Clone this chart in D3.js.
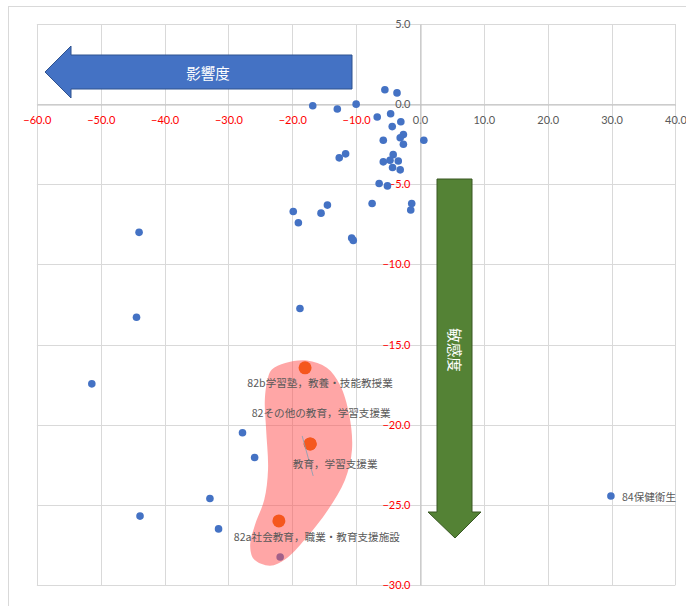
<!DOCTYPE html>
<html>
<head>
<meta charset="utf-8">
<script src="https://cdn.jsdelivr.net/npm/d3@7"></script>
<style>
  body { margin: 0; background: #fff; }
  svg { display: block; }
</style>
</head>
<body>
<svg id="chart" width="686" height="606"></svg>
<script>
// Axis ticks
const xTicks = [-60, -50, -40, -30, -20, -10, 0, 10, 20, 30, 40];
const yTicks = [5, 0, -5, -10, -15, -20, -25, -30];

// Industries plotted without labels (影響度 x, 敏感度 y)
const otherX = [-5.5, -3.6, -16.8, -12.95, -10.0, -6.7, -4.6, -3.0, -4.35, -2.6, -3.1, -2.6,
  -5.75, 0.6, -11.65, -12.65, -4.2, -5.75, -4.7, -3.4, -4.3, -3.1, -6.4, -5.1,
  -7.5, -1.3, -1.45, -14.5, -15.5, -19.85, -19.05, -10.7, -10.45, -44.0, -44.4,
  -18.8, -51.4, -27.8, -25.9, -32.9, -43.85, -31.55, -21.9];
const otherY = [0.9, 0.7, -0.1, -0.3, 0.0, -0.8, -0.6, -1.1, -1.4, -1.9, -2.1, -2.5,
  -2.25, -2.25, -3.1, -3.35, -3.15, -3.6, -3.5, -3.55, -3.95, -4.1, -4.95, -5.1,
  -6.2, -6.2, -6.6, -6.3, -6.8, -6.7, -7.4, -8.35, -8.5, -8.0, -13.3,
  -12.75, -17.45, -20.5, -22.05, -24.6, -25.7, -26.5, -28.25];

// Labelled industries
const labeledNames = ["82b学習塾，教養・技能教授業", "82その他の教育，学習支援業",
  "教育，学習支援業", "82a社会教育，職業・教育支援施設", "84保健衛生"];
const labeledX = [-18.0, -17.2, -17.2, -22.1, 29.9];
const labeledY = [-16.45, -21.2, -21.2, -26.0, -24.45];
const labeledHighlight = [true, true, true, true, false];

// Outline of the highlighted education cluster (data units)
const clusterX = [-23.8, -24.3, -24.1, -23.8, -24.4, -25.85, -26.6, -26.0, -23.5, -21.1,
  -18.0, -14.4, -11.75, -10.65, -11.1, -12.55, -14.6, -17.7, -21.1, -23.2];
const clusterY = [-17.05, -18.45, -20.3, -22.8, -24.7, -26.25, -27.5, -28.4, -28.8, -28.4,
  -27.15, -25.3, -23.45, -21.55, -19.35, -17.5, -16.45, -16.0, -16.15, -16.55];

const svg = d3.select("#chart");
const x = d3.scaleLinear().domain([-60, 40]).range([36.9, 675.4]);
const y = d3.scaleLinear().domain([-30, 5]).range([585, 24]);
const crisp = v => Math.round(v) + 0.5;

const BLUE = "#4472c4", ORANGE = "#f5571e", GREEN = "#548235";
const GRID = "#d9d9d9", GREY_TXT = "#595959", RED_TXT = "#ff0000";
const numFmt = d3.format(".1f");
const tickColor = v => v < 0 ? RED_TXT : GREY_TXT;

// Chart frame
svg.append("rect").attr("x", 8.5).attr("y", 6.5).attr("width", 700).attr("height", 620)
  .attr("fill", "#fff").attr("stroke", GRID);

// Gridlines
const grid = svg.append("g");
grid.selectAll("line.v").data(xTicks).join("line")
  .attr("x1", d => crisp(x(d))).attr("x2", d => crisp(x(d)))
  .attr("y1", y(5)).attr("y2", y(-30))
  .attr("stroke", GRID).attr("stroke-width", 1);
grid.selectAll("line.h").data(yTicks).join("line")
  .attr("y1", d => crisp(y(d))).attr("y2", d => crisp(y(d)))
  .attr("x1", x(-60)).attr("x2", x(40))
  .attr("stroke", GRID).attr("stroke-width", 1);

// Axes crossing at the origin
const xAxis = d3.axisBottom(x).tickValues(xTicks).tickFormat(numFmt).tickSize(0).tickPadding(12);
const gx = svg.append("g").attr("transform", `translate(0,${crisp(y(0))})`).call(xAxis);
gx.select(".domain").attr("stroke", "#bfbfbf");
gx.selectAll("text").attr("font-family", "Lato, 'Liberation Sans', sans-serif")
  .attr("font-size", 11).attr("fill", tickColor);

const yAxis = d3.axisLeft(y).tickValues(yTicks).tickFormat(numFmt).tickSize(0).tickPadding(10);
const gy = svg.append("g").attr("transform", `translate(${crisp(x(0))},0)`).call(yAxis);
gy.select(".domain").attr("stroke", "#bfbfbf");
gy.selectAll("text").attr("font-family", "Lato, 'Liberation Sans', sans-serif")
  .attr("font-size", 11).attr("fill", tickColor);

// 影響度 arrow (pointing left)
const leftArrow = [[352, 55], [71, 55], [71, 46], [45, 72], [71, 98], [71, 89], [352, 89]];
svg.append("path").attr("d", d3.line()(leftArrow) + "Z")
  .attr("fill", BLUE).attr("stroke", "#2f528f").attr("stroke-width", 1);
svg.append("text").attr("x", 208).attr("y", 72)
  .attr("text-anchor", "middle").attr("dominant-baseline", "central")
  .attr("font-family", "'Noto Sans CJK JP', sans-serif").attr("font-size", 14.5)
  .attr("fill", "#fff").text("影響度");

// 敏感度 arrow (pointing down)
const downArrow = [[437, 179], [472, 179], [472, 512], [481, 512], [455, 538], [428, 512], [437, 512]];
svg.append("path").attr("d", d3.line()(downArrow) + "Z")
  .attr("fill", GREEN).attr("stroke", "#385723").attr("stroke-width", 1);
svg.append("text").attr("transform", "translate(455,350) rotate(90)")
  .attr("text-anchor", "middle").attr("dominant-baseline", "central")
  .attr("font-family", "'Noto Sans CJK JP', sans-serif").attr("font-size", 14.5)
  .attr("fill", "#fff").text("敏感度");

// Unlabelled industries
svg.append("g").selectAll("circle").data(d3.range(otherX.length)).join("circle")
  .attr("cx", i => x(otherX[i])).attr("cy", i => y(otherY[i]))
  .attr("r", 3.8).attr("fill", BLUE);

// Labelled, non-highlighted points
const idx = d3.range(labeledNames.length);
svg.append("g").selectAll("circle").data(idx.filter(i => !labeledHighlight[i])).join("circle")
  .attr("cx", i => x(labeledX[i])).attr("cy", i => y(labeledY[i]))
  .attr("r", 3.8).attr("fill", BLUE);

// Highlighted cluster
const clusterPts = clusterX.map((v, i) => [x(v), y(clusterY[i])]);
svg.append("path").attr("d", d3.line().curve(d3.curveCatmullRomClosed.alpha(0.5))(clusterPts))
  .attr("fill", "#ff4d4d").attr("fill-opacity", 0.5);

svg.append("g").selectAll("circle").data(idx.filter(i => labeledHighlight[i])).join("circle")
  .attr("cx", i => x(labeledX[i])).attr("cy", i => y(labeledY[i]))
  .attr("r", 6.5).attr("fill", ORANGE);

// Leader line for the 教育，学習支援業 label
const li = 2;
svg.append("line")
  .attr("x1", x(labeledX[li]) - 8).attr("y1", y(labeledY[li]) - 8)
  .attr("x2", x(labeledX[li]) + 3).attr("y2", y(labeledY[li]) + 32)
  .attr("stroke", "#7f9fb5").attr("stroke-width", 0.8);

// Data labels: offset from the point and anchor
const labelPlace = [
  { dx: 15, dy: 15, anchor: "middle" },
  { dx: 11, dy: -31, anchor: "middle" },
  { dx: 25, dy: 20, anchor: "middle" },
  { dx: 38, dy: 15.5, anchor: "middle" },
  { dx: 11, dy: 0.5, anchor: "start" }
];
svg.append("g").selectAll("text").data(idx).join("text")
  .attr("x", i => x(labeledX[i]) + labelPlace[i].dx)
  .attr("y", i => y(labeledY[i]) + labelPlace[i].dy)
  .attr("text-anchor", i => labelPlace[i].anchor)
  .attr("dominant-baseline", "central")
  .attr("font-family", "'Noto Sans CJK JP', sans-serif").attr("font-size", 10.6)
  .attr("fill", GREY_TXT)
  .text(i => labeledNames[i]);
</script>
</body>
</html>
